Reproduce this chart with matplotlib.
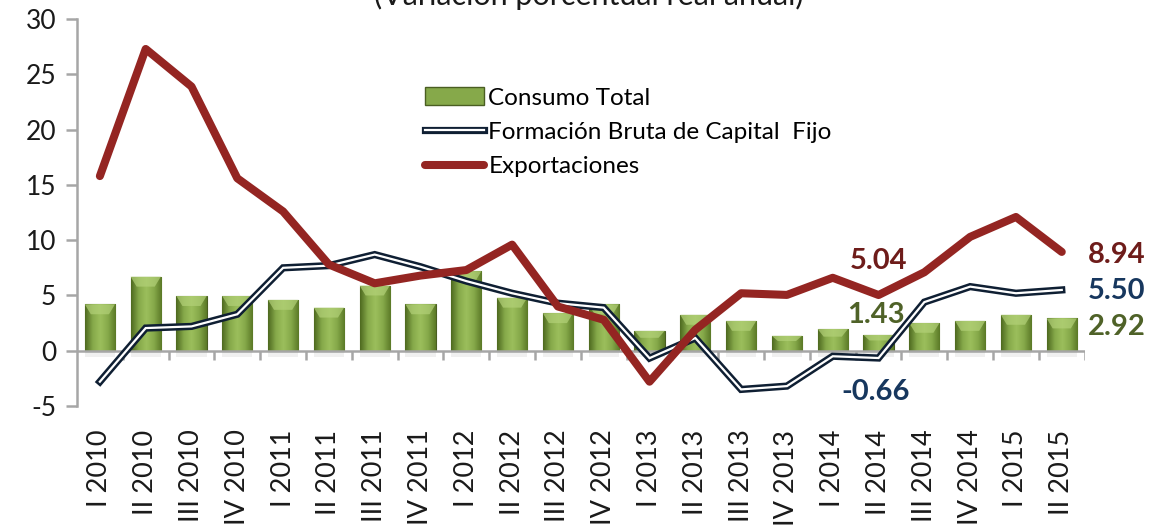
import numpy as np
import matplotlib
matplotlib.use("Agg")
import matplotlib.pyplot as plt
import matplotlib.patheffects as pe
from matplotlib.lines import Line2D
from matplotlib.patches import Patch, Polygon
from matplotlib.colors import LinearSegmentedColormap

plt.rcParams['font.family'] = ['Lato', 'DejaVu Sans']
plt.rcParams['axes.unicode_minus'] = False

# --- datos ---
trimestres = ["I 2010", "II 2010", "III 2010", "IV 2010",
              "I 2011", "II 2011", "III 2011", "IV 2011",
              "I 2012", "II 2012", "III 2012", "IV 2012",
              "I 2013", "II 2013", "III 2013", "IV 2013",
              "I 2014", "II 2014", "III 2014", "IV 2014",
              "I 2015", "II 2015"]
consumo = [4.2, 6.7, 4.95, 4.95, 4.6, 3.9, 5.9, 4.2, 7.2, 4.8, 3.4, 4.2,
           1.8, 3.25, 2.7, 1.35, 1.96, 1.43, 2.5, 2.7, 3.25, 2.92]
fbcf = [-2.8, 2.05, 2.2, 3.3, 7.5, 7.7, 8.7, 7.6, 6.3, 5.2, 4.3, 3.9,
        -0.67, 1.15, -3.5, -3.2, -0.5, -0.66, 4.4, 5.8, 5.2, 5.50]
export = [15.8, 27.3, 23.9, 15.6, 12.6, 7.8, 6.1, 6.8, 7.3, 9.6, 4.0, 2.8,
          -2.8, 1.9, 5.2, 5.05, 6.6, 5.04, 7.1, 10.3, 12.1, 8.94]

titulo = "(Variación porcentual real anual)"

verde = "#77933C"
rojo = "#942522"
negro = "#0F1F33"
gris = "#A6A6A6"

x = np.arange(len(trimestres))

fig = plt.figure(figsize=(11.49, 5.31), dpi=100)
ax = fig.add_axes([0.067, 0.2354, 0.877, 0.7286])

# barras con degradado
bars = ax.bar(x, consumo, width=0.66, color=verde, edgecolor="#4A5E22",
              linewidth=0.8, zorder=2)
cmap = LinearSegmentedColormap.from_list(
    "g", ["#4E6A20", "#86A94A", "#9CBF5C", "#86A94A", "#5B7A27"])
grad = np.linspace(0, 1, 64).reshape(1, -1)
for b in bars:
    x0, w, h = b.get_x(), b.get_width(), b.get_height()
    im = ax.imshow(grad, extent=[x0, x0 + w, 0, h], aspect="auto",
                   cmap=cmap, zorder=2.1)
    im.set_clip_path(b)
    d = min(0.9, h * 0.35)
    ax.add_patch(Polygon([(x0, h), (x0 + w, h), (x0 + w * 0.8, h - d),
                          (x0 + w * 0.2, h - d)], closed=True,
                         facecolor="#B3D178", edgecolor="none", alpha=0.7,
                         zorder=2.2))
    # sombra suave bajo el eje
    ax.add_patch(Polygon([(x0, 0), (x0 + w, 0), (x0 + w, -0.6), (x0, -0.6)],
                         closed=True, facecolor="#E3E3E3", edgecolor="none",
                         alpha=0.5, zorder=1))

# eje en cero y marcas entre categorias
ax.axhline(0, color=gris, lw=1.8, zorder=3)
ax.vlines(np.arange(len(trimestres)) + 0.5, -0.85, 0, color=gris, lw=1.8,
          zorder=3)

# FBCF: linea doble (blanca con contorno oscuro)
doble = [pe.Stroke(linewidth=5.2, foreground=negro), pe.Normal()]
ax.plot(x, fbcf, color="white", lw=1.6, solid_joinstyle="miter",
        path_effects=doble, zorder=4)

# Exportaciones
ax.plot(x, export, color=rojo, lw=5.8, solid_capstyle="round", zorder=5)

ax.set_xlim(-0.5, len(trimestres) - 0.5)
ax.set_ylim(-5, 30)
ax.set_yticks(np.arange(-5, 31, 5))
ax.set_xticks(x)
ax.set_xticklabels(trimestres, rotation=90, fontsize=19.5, color="#1A1A1A")
ax.tick_params(axis="x", length=0, pad=17)
ax.tick_params(axis="y", direction="out", length=8, width=1.8, color=gris,
               labelsize=19, labelcolor="#1A1A1A", pad=7)
for s in ["top", "right", "bottom"]:
    ax.spines[s].set_visible(False)
ax.spines["left"].set_color(gris)
ax.spines["left"].set_linewidth(1.8)

# etiquetas de valores
lab = dict(fontsize=21, fontweight="bold", textcoords="offset points")
i = 17
ax.annotate(f"{export[i]:.2f}", xy=(x[i], export[i]), xytext=(0, 24.5),
            ha="center", va="center", color="#6E1C1A", **lab)
ax.annotate(f"{consumo[i]:.2f}", xy=(x[i], consumo[i]), xytext=(-2, 14),
            ha="center", va="center", color="#4F6228", **lab)
ax.annotate(f"{fbcf[i]:.2f}", xy=(x[i], fbcf[i]), xytext=(-2, -24.5),
            ha="center", va="center", color="#17375E", **lab)
j = len(trimestres) - 1
ax.annotate(f"{export[j]:.2f}", xy=(x[j], export[j]), xytext=(19, -2),
            ha="left", va="center", color="#6E1C1A", **lab)
ax.annotate(f"{fbcf[j]:.2f}", xy=(x[j], fbcf[j]), xytext=(19, -1),
            ha="left", va="center", color="#17375E", **lab)
ax.annotate(f"{consumo[j]:.2f}", xy=(x[j], consumo[j]), xytext=(19, -6.5),
            ha="left", va="center", color="#4F6228", **lab)

# leyenda
h_cons = Patch(facecolor="#86A94A", edgecolor="#4A5E22")
h_fbcf = Line2D([], [], color="white", lw=1.6, path_effects=doble)
h_exp = Line2D([], [], color=rojo, lw=5.8, solid_capstyle="round")
ax.legend([h_cons, h_fbcf, h_exp],
          ["Consumo Total", "Formación Bruta de Capital  Fijo", "Exportaciones"],
          loc="upper left", bbox_to_anchor=(0.336, 0.85), frameon=False,
          fontsize=17.5, handlelength=2.4, handleheight=0.8, handletextpad=0.2,
          labelspacing=0.52, borderaxespad=0)

fig.text(0.512, 1.008, titulo, ha="center", va="center", fontsize=22,
         color="#1A1A1A")

fig.savefig("out.png", dpi=100, facecolor="white")
